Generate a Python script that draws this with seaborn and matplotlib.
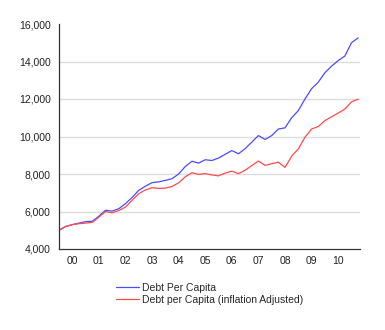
import numpy as np
import pandas as pd
import matplotlib
matplotlib.use("Agg")
import matplotlib.pyplot as plt
import seaborn as sns

# Quarterly observations, 2000Q1 .. 2011Q2
quarters = [2000 + k / 4 for k in range(46)]
debt_per_capita = [
    5000, 5200, 5300, 5380, 5460, 5480, 5750, 6070, 6020, 6150,
    6420, 6750, 7130, 7350, 7540, 7580, 7660, 7750, 8000, 8400,
    8680, 8580, 8760, 8720, 8850, 9050, 9250, 9080, 9350, 9700,
    10050, 9840, 10050, 10400, 10460, 11000, 11380, 12000, 12550, 12900,
    13400, 13750, 14050, 14290, 15000, 15260,
]
debt_per_capita_adj = [
    5000, 5200, 5300, 5350, 5380, 5420, 5700, 6000, 5930, 6050,
    6240, 6600, 6950, 7150, 7270, 7230, 7250, 7330, 7530, 7850,
    8070, 7980, 8020, 7950, 7900, 8050, 8150, 8020, 8200, 8450,
    8690, 8460, 8550, 8630, 8350, 8950, 9340, 9960, 10400, 10530,
    10850, 11050, 11250, 11460, 11850, 11990,
]
series_names = ["Debt Per Capita", "Debt per Capita (inflation Adjusted)"]
year_labels = ["00", "01", "02", "03", "04", "05", "06", "07", "08", "09", "10"]
y_ticks = [4000, 6000, 8000, 10000, 12000, 14000, 16000]

df = pd.DataFrame({
    "t": quarters * 2,
    "value": debt_per_capita + debt_per_capita_adj,
    "series": [series_names[0]] * len(quarters) + [series_names[1]] * len(quarters),
})

sns.set_style("white")
plt.rcParams["font.family"] = ["Liberation Sans", "DejaVu Sans"]

fig = plt.figure(figsize=(3.85, 3.30), dpi=100)
ax = fig.add_axes([59 / 385, 1 - 249 / 330, (360 - 59) / 385, (249 - 24) / 330])

for v in y_ticks[1:-1]:
    ax.axhline(v, color="#dcdcdc", lw=1.0, zorder=0)

sns.lineplot(data=df, x="t", y="value", hue="series",
             palette=["#4b4bff", "#ff4b4b"], linewidth=0.9, ax=ax, legend=True)

ax.set_xlim(2000, 2011.32)
ax.set_ylim(4000, 16000)
ax.set_yticks(y_ticks)
ax.set_yticklabels([f"{v:,}" for v in y_ticks])
ax.set_xticks(list(range(2000, 2012)))
ax.set_xticklabels([])
ax.set_xticks([2000.5 + i for i in range(len(year_labels))], minor=True)
ax.set_xticklabels(year_labels, minor=True)
ax.tick_params(axis="x", which="major", length=4, width=0.8, direction="out", color="#333333")
ax.tick_params(axis="x", which="minor", length=0, labelsize=7.5, pad=5, colors="#222222")
ax.tick_params(axis="y", length=4, width=0.8, direction="out", labelsize=7.5, pad=2,
               color="#333333", labelcolor="#222222")
ax.set_xlabel("")
ax.set_ylabel("")

for s in ["top", "right"]:
    ax.spines[s].set_visible(False)
for s in ["left", "bottom"]:
    ax.spines[s].set_color("#333333")
    ax.spines[s].set_linewidth(0.9)

handles, labels = ax.get_legend_handles_labels()
ax.legend_.remove()
fig.legend(handles, labels, loc="upper left", bbox_to_anchor=(116 / 385, 1 - 283 / 330),
           frameon=False, fontsize=7.5, handlelength=2.2, handletextpad=0.3,
           labelspacing=0.15, borderpad=0, borderaxespad=0)

fig.savefig("out.png", dpi=100, facecolor="white")
